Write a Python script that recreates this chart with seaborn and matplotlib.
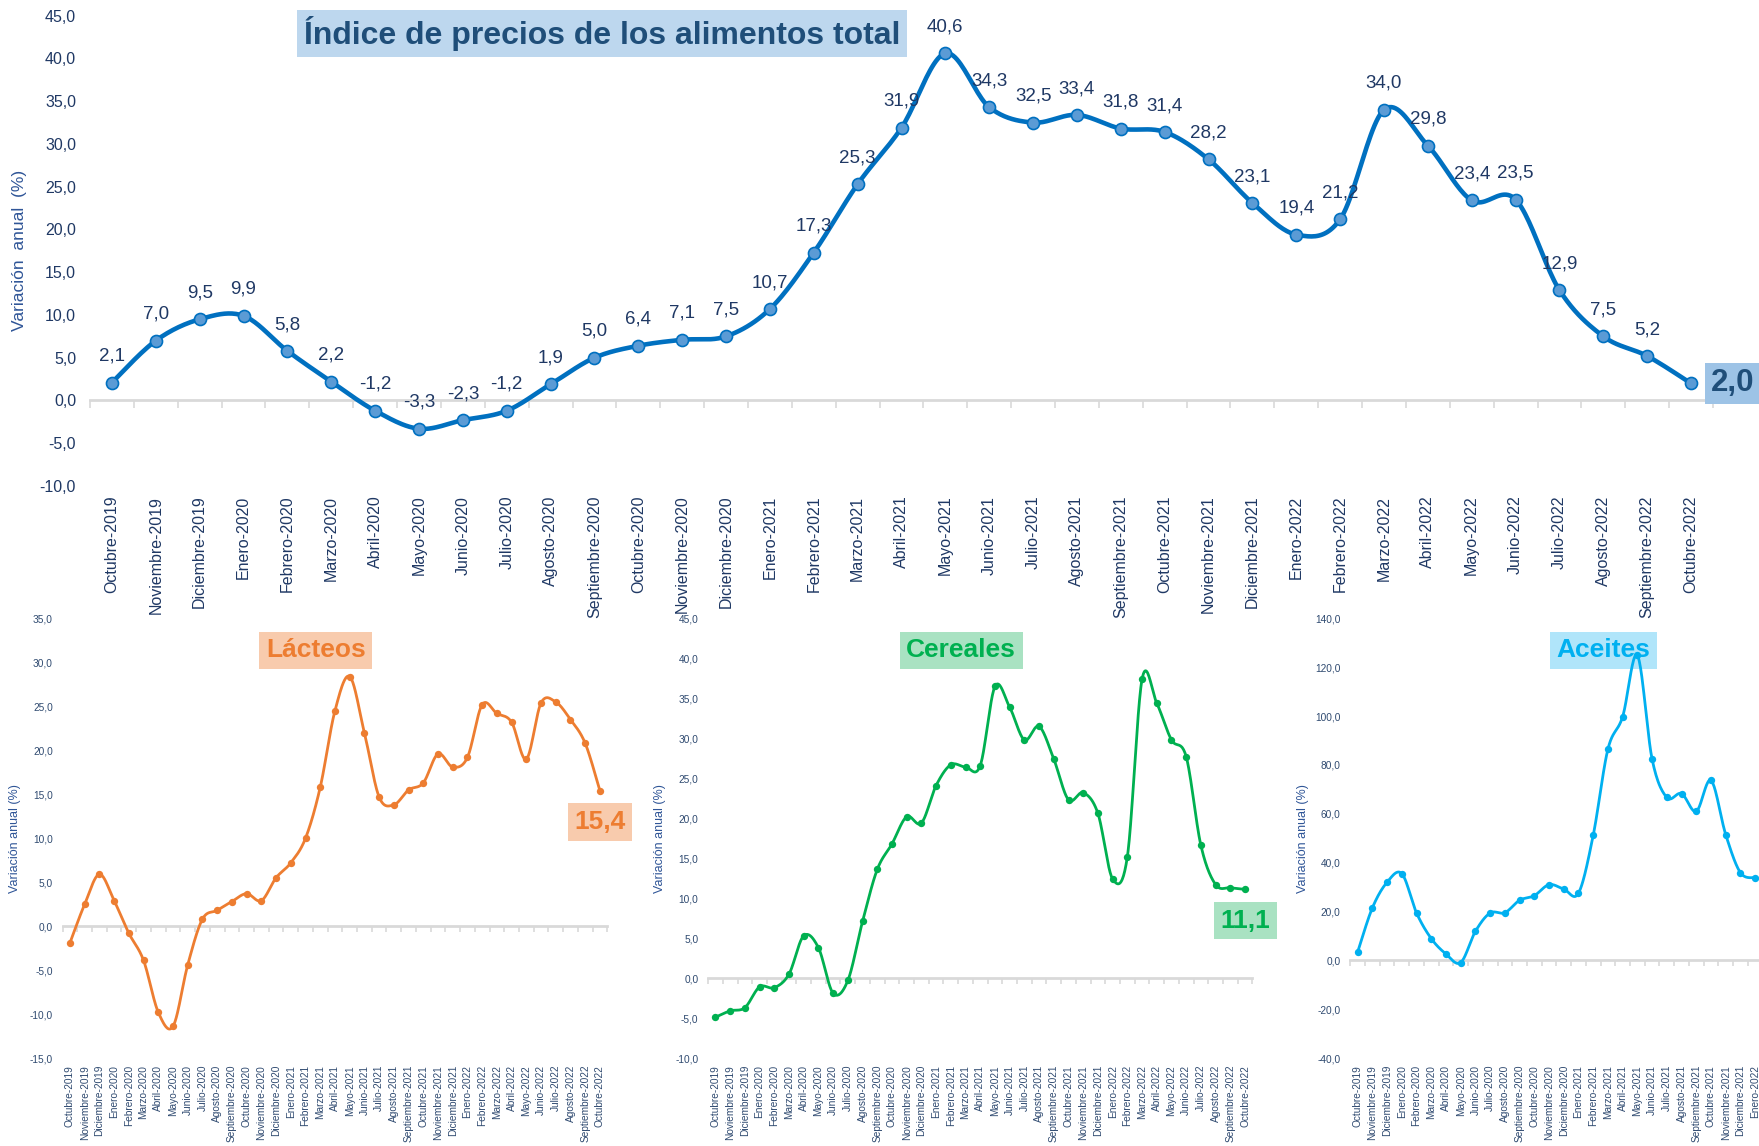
import numpy as np
import pandas as pd
import matplotlib
matplotlib.use("Agg")
import matplotlib.pyplot as plt
import seaborn as sns
from matplotlib.ticker import FuncFormatter
from matplotlib import font_manager

# ---------------- data ----------------
months = ["Octubre-2019", "Noviembre-2019", "Diciembre-2019", "Enero-2020", "Febrero-2020",
          "Marzo-2020", "Abril-2020", "Mayo-2020", "Junio-2020", "Julio-2020", "Agosto-2020",
          "Septiembre-2020", "Octubre-2020", "Noviembre-2020", "Diciembre-2020", "Enero-2021",
          "Febrero-2021", "Marzo-2021", "Abril-2021", "Mayo-2021", "Junio-2021", "Julio-2021",
          "Agosto-2021", "Septiembre-2021", "Octubre-2021", "Noviembre-2021", "Diciembre-2021",
          "Enero-2022", "Febrero-2022", "Marzo-2022", "Abril-2022", "Mayo-2022", "Junio-2022",
          "Julio-2022", "Agosto-2022", "Septiembre-2022", "Octubre-2022"]

total = [2.1, 7.0, 9.5, 9.9, 5.8, 2.2, -1.2, -3.3, -2.3, -1.2, 1.9, 5.0, 6.4, 7.1, 7.5,
         10.7, 17.3, 25.3, 31.9, 40.6, 34.3, 32.5, 33.4, 31.8, 31.4, 28.2, 23.1, 19.4,
         21.2, 34.0, 29.8, 23.4, 23.5, 12.9, 7.5, 5.2, 2.0]

lacteos = [-1.9, 2.5, 5.9, 2.9, -0.8, -3.9, -9.8, -11.4, -4.4, 0.8, 1.8, 2.8, 3.7, 2.9,
           5.5, 7.2, 10.0, 15.8, 24.5, 28.4, 22.0, 14.7, 13.8, 15.5, 16.3, 19.6, 18.1,
           19.2, 25.2, 24.2, 23.2, 19.0, 25.4, 25.5, 23.5, 20.8, 15.4]

cereales = [-4.9, -4.1, -3.7, -1.1, -1.2, 0.5, 5.3, 3.8, -1.9, -0.3, 7.1, 13.6, 16.8,
            20.2, 19.4, 24.1, 26.7, 26.4, 26.6, 36.5, 33.9, 29.8, 31.5, 27.4, 22.3, 23.2,
            20.6, 12.4, 15.2, 37.4, 34.4, 29.8, 27.7, 16.6, 11.7, 11.3, 11.1]

# only the part visible inside the image (the panel is cut at the right edge)
aceites = [3.4, 21.5, 32.0, 35.5, 19.4, 8.9, 2.6, -0.9, 11.9, 19.4, 19.5, 24.6, 26.5,
           31.0, 29.2, 27.5, 51.2, 86.5, 99.8, 124.9, 82.4, 66.7, 68.3, 61.0, 73.7, 51.5,
           35.9, 33.8]

# ---------------- style ----------------
sns.set_theme(style="white")
plt.rcParams["font.family"] = ["Liberation Sans", "DejaVu Sans"]

installed = {f.name for f in font_manager.fontManager.ttflist}
narrow_ok = "Liberation Sans Narrow" in installed

W, H = 1759, 1146
fig = plt.figure(figsize=(W / 100, H / 100), dpi=100)
fig.patch.set_facecolor("white")


def add_px_axes(left, top, right, bottom):
    return fig.add_axes([left / W, 1 - bottom / H, (right - left) / W, (bottom - top) / H])


def comma(v, _=None):
    return f"{v:.1f}".replace(".", ",")


def smooth(values, n=24):
    """Excel-like smoothed line (cubic Bezier through the points)."""
    y = np.asarray(values, float)
    x = np.arange(len(y), dtype=float)
    P = np.column_stack([x, y])
    out = []
    t = np.linspace(0, 1, n)[:, None]
    for i in range(len(P) - 1):
        p0 = P[i - 1] if i > 0 else P[i]
        p1, p2 = P[i], P[i + 1]
        p3 = P[i + 2] if i + 2 < len(P) else P[i + 1]
        c1 = p1 + (p2 - p0) / 6
        c2 = p2 - (p3 - p1) / 6
        seg = ((1 - t) ** 3) * p1 + 3 * ((1 - t) ** 2) * t * c1 + 3 * (1 - t) * t ** 2 * c2 + t ** 3 * p2
        out.append(seg if i == 0 else seg[1:])
    arr = np.vstack(out)
    return pd.DataFrame({"x": arr[:, 0], "y": arr[:, 1]})


def style_axes(ax, ymin, ymax, ystep, tick_fs, tick_color, ypad, xpad, zero_color, tick_len):
    ax.set_xlim(-0.5, len(months) - 0.5)
    ax.set_ylim(ymin, ymax)
    ax.set_yticks(np.arange(ymin, ymax + ystep / 2, ystep))
    ax.yaxis.set_major_formatter(FuncFormatter(comma))
    ax.set_xticks(range(len(months)))
    ax.set_xticklabels(months, rotation=90)
    ax.set_xlabel("")
    for s in ax.spines.values():
        s.set_visible(False)
    ax.tick_params(axis="x", length=0, pad=xpad, labelsize=tick_fs, labelcolor=tick_color)
    ax.tick_params(axis="y", length=0, pad=ypad, labelsize=tick_fs, labelcolor=tick_color)
    ax.grid(False)
    ax.set_facecolor("none")
    # zero line with tick marks between categories
    sec = ax.secondary_xaxis((0 - ymin) / (ymax - ymin))
    sec.set_xticks(np.arange(-0.5, len(months), 1.0))
    sec.tick_params(axis="x", direction="out", length=tick_len, width=1.2,
                    color=zero_color, labelbottom=False, labeltop=False)
    for s in sec.spines.values():
        s.set_color(zero_color)
        s.set_linewidth(2.0)


# ================= top chart =================
ax = add_px_axes(90, 15.7, 1713, 486)
style_axes(ax, -10, 45, 5, 11.5, "#1F3864", 10, 7, "#D9D9D9", 6)

sm = smooth(total)
sns.lineplot(data=sm, x="x", y="y", sort=False, estimator=None, ax=ax,
             color="#0070C0", linewidth=3.3, zorder=3)
sns.scatterplot(x=np.arange(len(total)), y=total, ax=ax, s=75, color="#5B9BD5",
                edgecolor="#0070C0", linewidth=1.2, zorder=4)
ax.set_xlabel("")

for i, v in enumerate(total[:-1]):
    ax.annotate(comma(v), (i, v), xytext=(0, 19), textcoords="offset points",
                ha="center", va="center", fontsize=13.5, color="#1F3864", zorder=5)

ax.annotate(comma(total[-1]), (len(total) - 1, total[-1]), xytext=(30, 0),
            textcoords="offset points", ha="center", va="center", fontsize=22.5,
            fontweight="bold", color="#1F4E79", annotation_clip=False,
            bbox=dict(boxstyle="square,pad=0.18", fc="#9DC3E6", ec="none"), zorder=5)

if narrow_ok:
    title_kw = dict(family=["Liberation Sans Narrow", "Liberation Sans", "DejaVu Sans"],
                    fontsize=27, bbox=dict(boxstyle="square,pad=0.08", fc="#BDD7EE", ec="none"))
else:
    title_kw = dict(fontsize=23, bbox=dict(boxstyle="square,pad=0.2", fc="#BDD7EE", ec="none"))
ax.text(0.3155, 0.962, "Índice de precios de los alimentos total", transform=ax.transAxes,
        ha="center", va="center", fontweight="bold", color="#1F4E79", zorder=2, **title_kw)

ax.set_ylabel("Variación  anual  (%)", fontsize=12.5, color="#2F5597")
ax.yaxis.set_label_coords(-0.0388, 0.5)

# ================= bottom charts =================
panels = [
    dict(data=lacteos, name="Lácteos", color="#ED7D31", box="#F8CBAD", rect=(62.6, 618.5, 607.3, 1058),
         ylim=(-15, 35), step=5, lab_x=-0.076, last=True),
    dict(data=cereales, name="Cereales", color="#00B050", box="#A9E2C2", rect=(708.1, 618.5, 1252.4, 1058),
         ylim=(-10, 45), step=5, lab_x=-0.077, last=True),
    dict(data=aceites, name="Aceites", color="#00B0F0", box="#B0E5FA", rect=(1350.3, 618.5, 1895, 1058),
         ylim=(-40, 140), step=20, lab_x=-0.075, last=False),
]

for p in panels:
    a = add_px_axes(*p["rect"])
    style_axes(a, p["ylim"][0], p["ylim"][1], p["step"], 7.3, "#2F4A70", 7, 5, "#D9D9D9", 4)
    sm = smooth(p["data"])
    sns.lineplot(data=sm, x="x", y="y", sort=False, estimator=None, ax=a,
                 color=p["color"], linewidth=2.0, zorder=3)
    sns.scatterplot(x=np.arange(len(p["data"])), y=p["data"], ax=a, s=28, color=p["color"],
                    edgecolor=p["color"], linewidth=0, zorder=4)
    a.set_xlabel("")
    a.text(0.465, 0.928, p["name"], transform=a.transAxes, ha="center", va="center",
           fontsize=19, fontweight="bold", color=p["color"],
           bbox=dict(boxstyle="square,pad=0.25", fc=p["box"], ec="none"), zorder=1)
    if p["last"]:
        n = len(p["data"]) - 1
        a.annotate(comma(p["data"][-1]), (n, p["data"][-1]), xytext=(0, -22.5),
                   textcoords="offset points", ha="center", va="center", fontsize=19,
                   fontweight="bold", color=p["color"], annotation_clip=False,
                   bbox=dict(boxstyle="square,pad=0.25", fc=p["box"], ec="none"), zorder=5)
    a.set_ylabel("Variación anual (%)", fontsize=9, color="#2F5597")
    a.yaxis.set_label_coords(p["lab_x"], 0.5)

fig.savefig("out.png", dpi=100, facecolor="white")
